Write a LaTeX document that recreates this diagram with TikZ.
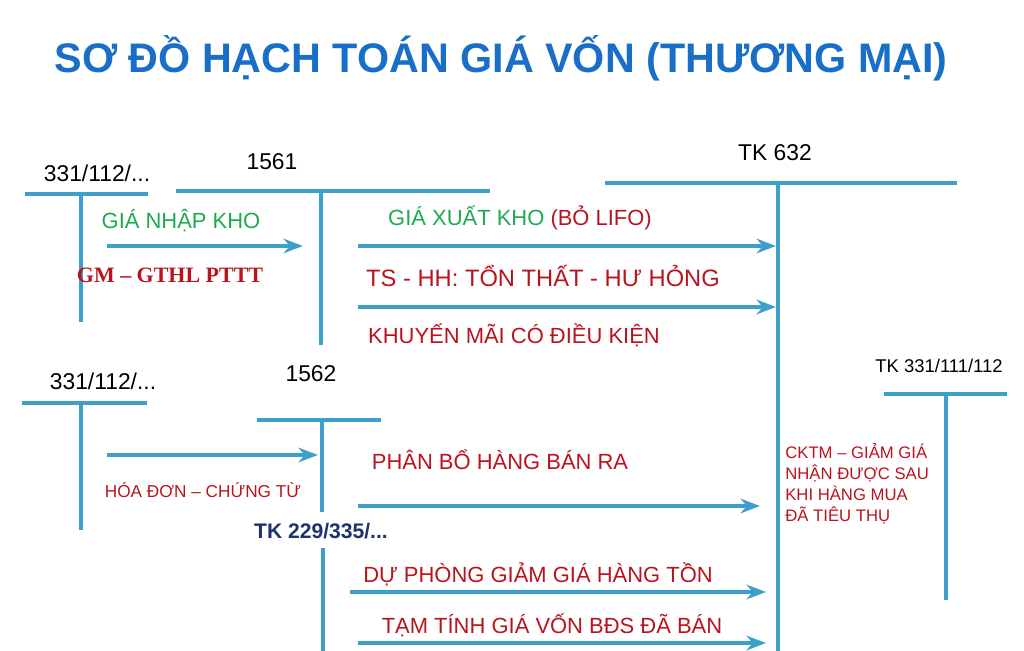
\documentclass[tikz,border=0pt]{standalone}
\usepackage{fontspec}
\setmainfont{Liberation Sans}
\newfontfamily\serifvn{Liberation Serif}
\usetikzlibrary{arrows.meta}
\tikzset{>=Stealth}
\definecolor{acct}{RGB}{60,160,200}
\definecolor{titleblue}{RGB}{25,110,200}
\definecolor{lblgreen}{RGB}{30,170,80}
\definecolor{lblred}{RGB}{185,20,30}
\definecolor{navy}{RGB}{30,50,110}
\tikzstyle{tline}=[acct,line width=1.8pt]
\tikzstyle{flow}=[->,acct,line width=1.8pt]
\tikzstyle{acname}=[font=\fontsize{13}{15}\selectfont]
\tikzstyle{lbl}=[lblred,font=\fontsize{12.5}{15}\selectfont]
\begin{document}
\begin{tikzpicture}[x=0.02cm,y=-0.02cm]
            \useasboundingbox (0,0) rectangle (1024,651);
            \node[titleblue,font=\fontsize{23.5}{28}\selectfont\bfseries] (title) at (501,58) {SƠ ĐỒ HẠCH TOÁN GIÁ VỐN (THƯƠNG MẠI)};
            % T accounts
            \node[acname] (a331) at (97,173) {331/112/...};
            \coordinate (a331l) at (25,194); \coordinate (a331r) at (148,194);
            \coordinate (a331t) at (81,194); \coordinate (a331b) at (81,322);
            \draw[tline] (a331l)--(a331r); \draw[tline] (a331t)--(a331b);
            \node[acname] (a1561) at (272,162) {1561};
            \coordinate (a1561l) at (176,191); \coordinate (a1561r) at (490,191);
            \coordinate (a1561t) at (321,191); \coordinate (a1561b) at (321,345);
            \draw[tline] (a1561l)--(a1561r); \draw[tline] (a1561t)--(a1561b);
            \node[acname] (a632) at (775,153) {TK 632};
            \coordinate (a632l) at (605,183); \coordinate (a632r) at (957,183);
            \coordinate (a632t) at (778,183); \coordinate (a632b) at (778,651);
            \draw[tline] (a632l)--(a632r); \draw[tline] (a632t)--(a632b);
            \node[acname] (b331) at (103,381) {331/112/...};
            \coordinate (b331l) at (22,403); \coordinate (b331r) at (147,403);
            \coordinate (b331t) at (81,403); \coordinate (b331b) at (81,530);
            \draw[tline] (b331l)--(b331r); \draw[tline] (b331t)--(b331b);
            \node[acname] (a1562) at (311,374) {1562};
            \coordinate (a1562l) at (257,420); \coordinate (a1562r) at (381,420);
            \coordinate (a1562t) at (322,420); \coordinate (a1562b) at (322,512);
            \draw[tline] (a1562l)--(a1562r); \draw[tline] (a1562t)--(a1562b);
            \node[navy,font=\fontsize{12}{14}\selectfont\bfseries] (a229) at (321,531) {TK 229/335/...};
            \coordinate (a229t) at (323,548); \coordinate (a229b) at (323,651);
            \draw[tline] (a229t)--(a229b);
            \node[font=\fontsize{10.5}{12}\selectfont] (a331c) at (939,366) {TK 331/111/112};
            \coordinate (a331cl) at (884,394); \coordinate (a331cr) at (1007,394);
            \coordinate (a331ct) at (946,394); \coordinate (a331cb) at (946,600);
            \draw[tline] (a331cl)--(a331cr); \draw[tline] (a331ct)--(a331cb);
            % flows
            \coordinate (f1s) at (107,246); \coordinate (f1e) at (303,246);
            \draw[flow] (f1s)--(f1e);
            \node[lblgreen,font=\fontsize{12.5}{15}\selectfont] (nhap) at (181,221) {GIÁ NHẬP KHO};
            \node[lblred,font=\fontsize{12.5}{14}\selectfont\serifvn\bfseries] (gm) at (170,275) {GM – GTHL PTTT};
            \coordinate (f2s) at (358,246); \coordinate (f2e) at (776,246);
            \draw[flow] (f2s)--(f2e);
            \node[font=\fontsize{12.5}{15}\selectfont] (xuat) at (520,218) {\textcolor{lblgreen}{GIÁ XUẤT KHO} \textcolor{lblred}{(BỎ LIFO)}};
            \node[lbl,font=\fontsize{13.5}{16}\selectfont] (tonthat) at (543,276) {TS - HH: TỔN THẤT - HƯ HỎNG};
            \coordinate (f3s) at (358,307); \coordinate (f3e) at (776,307);
            \draw[flow] (f3s)--(f3e);
            \node[lbl] (km) at (514,335) {KHUYẾN MÃI CÓ ĐIỀU KIỆN};
            \coordinate (f4s) at (107,455); \coordinate (f4e) at (318,455);
            \draw[flow] (f4s)--(f4e);
            \node[lblred,font=\fontsize{9.8}{11}\selectfont] (hd) at (203,490) {HÓA ĐƠN – CHỨNG TỪ};
            \node[lbl] (pb) at (500,460) {PHÂN BỔ HÀNG BÁN RA};
            \coordinate (f5s) at (358,506); \coordinate (f5e) at (760,506);
            \draw[flow] (f5s)--(f5e);
            \node[lbl] (dp) at (538,574) {DỰ PHÒNG GIẢM GIÁ HÀNG TỒN};
            \coordinate (f6s) at (350,592); \coordinate (f6e) at (766,592);
            \draw[flow] (f6s)--(f6e);
            \node[lbl] (bds) at (552,625) {TẠM TÍNH GIÁ VỐN BĐS ĐÃ BÁN};
            \coordinate (f7s) at (358,643); \coordinate (f7e) at (766,643);
            \draw[flow] (f7s)--(f7e);
            \node[lblred,font=\fontsize{9.5}{12}\selectfont,align=left,anchor=north west,inner sep=0pt] (cktm) at (785,443) {CKTM – GIẢM GIÁ\\NHẬN ĐƯỢC SAU\\KHI HÀNG MUA\\ĐÃ TIÊU THỤ};
        \end{tikzpicture}
\end{document}
